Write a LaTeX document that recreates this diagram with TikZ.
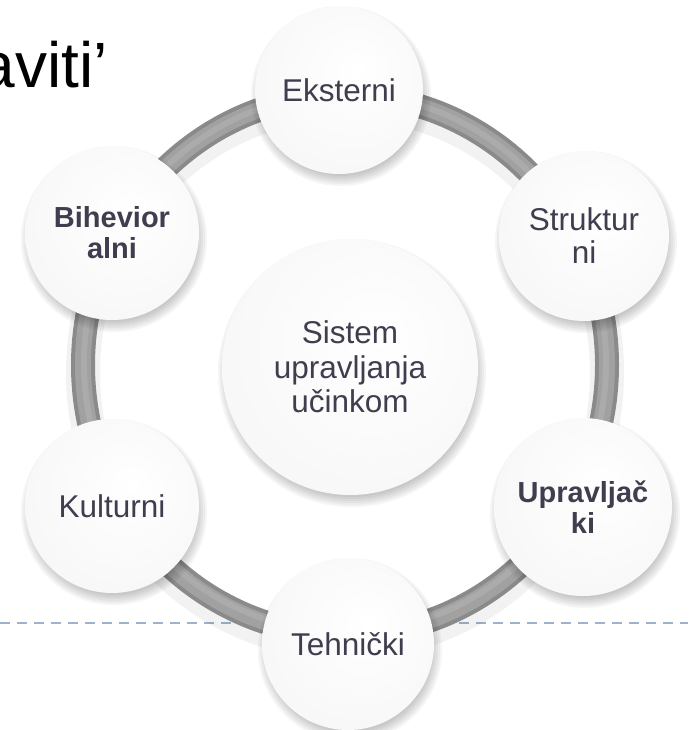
\documentclass[tikz,border=0pt]{standalone}
\usepackage{fontspec}
\setmainfont{Liberation Sans}
\usetikzlibrary{calc}
\definecolor{txt}{RGB}{62,62,78}
\definecolor{dashc}{RGB}{157,179,201}
\pgfdeclareradialshading{button}{\pgfpoint{6bp}{6bp}}{color(0bp)=(white); color(30bp)=(white!97!black); color(45bp)=(white!92!black); color(52bp)=(white!80!black); color(58bp)=(white!86!black); color(64bp)=(white!93!black)}
\tikzset{
  btn/.style={circle, inner sep=0pt, align=center, text=txt, shading=button, font=\fontsize{31.5}{33}\selectfont},
  btnbold/.style={btn, font=\fontsize{29}{31}\selectfont\bfseries},
  ringouter/.style={line width=24pt, black!46},
  ringmid/.style={line width=16pt, black!37},
  ringinner/.style={line width=6pt, black!33},
  ringshadow/.style={line width=34pt, black, opacity=0.05},
  dashline/.style={dashc, line width=2pt, dash pattern=on 10pt off 7pt},
  titletext/.style={font=\fontsize{64}{70}\selectfont, text=black, inner sep=0pt}
}
\newcommand{\softshadow}[2]{%
  \foreach \k in {0,...,5}{\fill[black, opacity=0.04] ($(#1)+(2,6)$) circle ({#2-4+2*\k pt});}}
\begin{document}
\begin{tikzpicture}[x=1pt,y=-1pt]
\useasboundingbox (0,0) rectangle (690,730);
\clip (0,0) rectangle (690,730);
% coordinates
\coordinate (rc) at (345,365);
\coordinate (dl) at (0,623);
\coordinate (dr) at (688,623);
\coordinate (pext) at (339,90);
\coordinate (pstr) at (584,236);
\coordinate (pupr) at (583,507);
\coordinate (pteh) at (348,644);
\coordinate (pkul) at (112,506);
\coordinate (pbih) at (112,233);
\coordinate (pcen) at (350,367);
% title
\node[titletext, anchor=base east] (title) at (108,88) {aviti’};
% dashed line
\draw[dashline] (dl) -- (dr);
% ring
\draw[ringshadow] ($(rc)+(0,8)$) ellipse [x radius=262pt, y radius=270pt];
\draw[ringouter] (rc) ellipse [x radius=262pt, y radius=270pt];
\draw[ringmid] (rc) ellipse [x radius=262pt, y radius=270pt];
\draw[ringinner] ($(rc)+(0,-2)$) ellipse [x radius=261pt, y radius=269pt];
% shadows
\softshadow{pext}{84}
\softshadow{pstr}{85}
\softshadow{pupr}{89}
\softshadow{pteh}{86}
\softshadow{pkul}{87}
\softshadow{pbih}{87}
\softshadow{pcen}{128}
% buttons
\node[btn, minimum size=168pt] (ext) at (pext) {Eksterni};
\node[btn, minimum size=170pt] (str) at (pstr) {Struktur\\ni};
\node[btnbold, minimum size=178pt] (upr) at (pupr) {Upravljač\\ki};
\node[btn, minimum size=172pt] (teh) at (pteh) {Tehnički};
\node[btn, minimum size=174pt] (kul) at (pkul) {Kulturni};
\node[btnbold, minimum size=174pt] (bih) at (pbih) {Bihevior\\alni};
\node[btn, minimum size=256pt, font=\fontsize{31.5}{34.5}\selectfont] (cen) at (pcen) {Sistem\\upravljanja\\učinkom};
\end{tikzpicture}
\end{document}
